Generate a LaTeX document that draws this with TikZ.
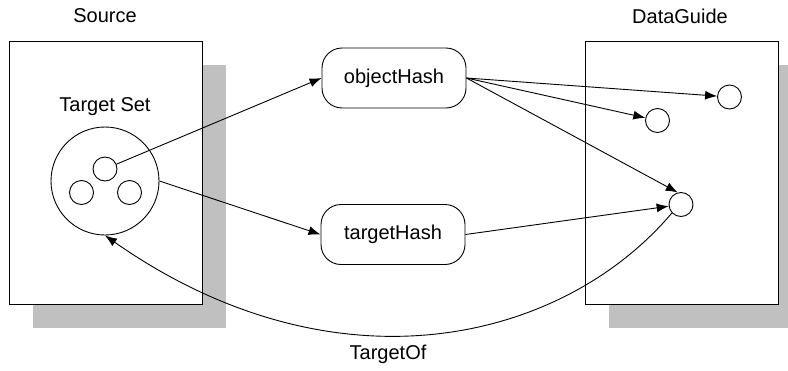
\documentclass[tikz,border=0pt]{standalone}
\usepackage{fontspec}
\setmainfont{Liberation Sans}
\usetikzlibrary{arrows.meta,shadows}
\definecolor{shadowgray}{RGB}{192,192,192}

\begin{document}
\begin{tikzpicture}
[ x=1pt, y=-1pt, line width=0.9pt, >={Latex[length=12pt,width=9pt]},
  every node/.style={ font=\fontsize{20pt}{24pt}\selectfont },
  store/.style={ draw, fill=white, minimum width=193pt, minimum height=263pt,
    drop shadow={ shadow xshift=24pt, shadow yshift=-24pt, opacity=1, fill=shadowgray }
    },
  hash/.style={ draw, rounded corners=20pt, minimum width=144pt, minimum height=60pt },
  obj/.style={ draw, circle, inner sep=0pt, minimum size=24pt }
]
\useasboundingbox (0,0) rectangle (788,370);
%\draw[help lines,step=20] (0,0) grid (788,370);

% the two stores
\node[store] (src) at (105.5,172.5) {};
\node[store] (dg)  at (681.5,172.5) {};
\node (srclbl) at (105,16) {Source};
\node (dglbl)  at (680,16) {DataGuide};

% target set
\node (setlbl) at (105,107) {Target Set};
\node[draw, circle, inner sep=0pt, minimum size=108pt] (set) at (105,181) {};
\node[obj] (t1) at (105,169) {};
\node[obj] (t2) at (81.5,192.5) {};
\node[obj] (t3) at (129.5,192.5) {};

% hash tables
\node[hash] (oh) at (394,78) {objectHash};
\node[hash] (th) at (393,234.5) {targetHash};

% dataguide objects
\node[obj] (d1) at (729.5,97) {};
\node[obj] (d2) at (657.5,120.5) {};
\node[obj] (d3) at (681,204.5) {};

\draw[->] (t1) -- (oh.west);
\draw[->] (set.east) -- (th.west);

\foreach \d in {d1,d2}{
    \draw[->] (oh.east) -- (\d);
  }
\draw[->] (oh.east) -- (d3.105);
\draw[->] (th.east) -- (d3);

\draw[->] (d3.223) .. controls +(-110,130) and +(230,161) .. (set.south);
\node (tolbl) at (388,354) {TargetOf};
\end{tikzpicture}
\end{document}
